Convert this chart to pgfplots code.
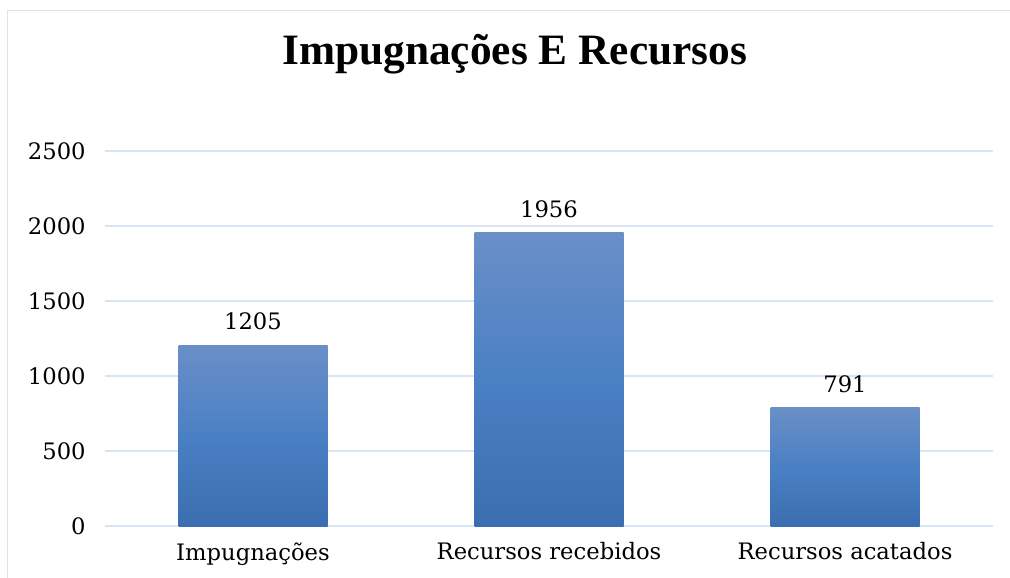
\documentclass[border=0pt]{standalone}
\usepackage{pgfplots}
\pgfplotsset{compat=1.18}
\usepackage{fontspec}
\setmainfont{DejaVu Serif}
\newfontfamily\titlefont{Liberation Serif}
\definecolor{gridc}{HTML}{D7E4F4}
\definecolor{bartop}{HTML}{6A8FC7}
\definecolor{barmid}{HTML}{4A80C4}
\definecolor{barbot}{HTML}{3A6EB0}
\pgfplotsset{mybar/.style={ybar, bar width=111.75pt, draw=none, top color=bartop, bottom color=barbot, middle color=barmid,
  nodes near coords,
  nodes near coords style={font=\fontsize{17}{20}\selectfont, text=black, anchor=south, inner sep=0pt, yshift=11pt, /pgf/number format/1000 sep={}, /pgf/number format/assume math mode=true}}}
\begin{document}
\begin{tikzpicture}
\useasboundingbox (0pt,0pt) rectangle (757.5pt,-433.5pt);
\draw[gridc,line width=1.2pt] (5.6pt,-433.5pt) -- (5.6pt,-7.9pt) -- (757.5pt,-7.9pt);
\node[font=\titlefont\bfseries\fontsize{32.5}{38}\selectfont] at (386pt,-41pt) {Impugnações E Recursos};
\begin{axis}[
  at={(78.75pt,-394.5pt)}, anchor=south west,
  scale only axis, width=666pt, height=281.25pt,
  xmin=-0.5, xmax=2.5, ymin=0, ymax=2500,
  ytick={0,500,...,2500},
  xtick={0,1,2},
  xticklabels={Impugnações, Recursos recebidos, Recursos acatados},
  axis line style={draw=none},
  axis x line*=bottom,
  x axis line style={draw=gridc, line width=1.2pt},
  ymajorgrids, grid style={gridc, line width=1.2pt},
  major tick length=0pt,
  tick label style={font=\fontsize{17}{20}\selectfont},
  /pgf/number format/assume math mode=true,
  /pgf/number format/1000 sep={},
  yticklabel style={xshift=-11pt},
  xticklabel style={yshift=-9pt},
  clip=false,
]
\addplot[mybar] coordinates {(0,1205)};
\addplot[mybar] coordinates {(1,1956)};
\addplot[mybar] coordinates {(2,791)};
\end{axis}
\end{tikzpicture}
\end{document}
